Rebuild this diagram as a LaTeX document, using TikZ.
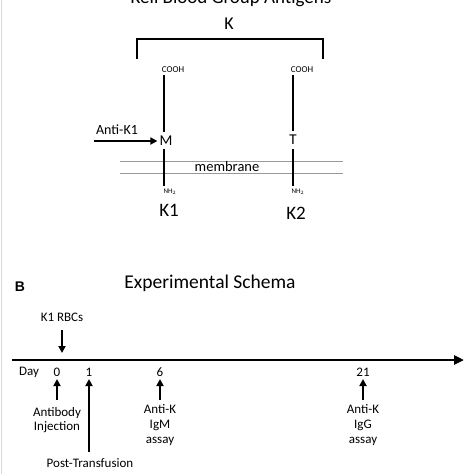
\documentclass[tikz,border=0pt]{standalone}
\usepackage{fontspec}
\setmainfont{Carlito}
\usetikzlibrary{arrows.meta}
\begin{document}
\begin{tikzpicture}[x=1pt,y=-1pt,
  txt/.style={inner sep=0pt,align=center,font=\fontsize{#1}{#1}\selectfont},
  txt/.default=12,
  bar/.style={line width=2.6pt,black},
  memb/.style={line width=0.6pt,gray!80},
  arr/.style={line width=1.8pt,-{Triangle[length=7pt,width=7pt]}},
  tl/.style={line width=2.6pt,-{Triangle[length=10pt,width=9pt]}}]
\useasboundingbox (0,0) rectangle (474,474);
\clip (0,0) rectangle (474,474);
\draw[gray!30,line width=0.8pt] (1,0) -- (1,474);
% Panel A
\node[txt=19,anchor=base] (title) at (231,3) {Kell Blood Group Antigens};
\node[txt=18] (K) at (229,24) {K};
\coordinate (bl) at (137,59);
\coordinate (br) at (323,59);
\draw[bar,line cap=butt] (bl) -- (137,39) -- (323,39) -- (br);
\node[txt=9] (cooh1) at (173,70) {COOH};
\node[txt=9] (cooh2) at (302,70) {COOH};
\node[txt=15] (M) at (166,141) {M};
\node[txt=15] (T) at (293,140) {T};
\node[txt=7] (nh1) at (170,192) {NH$_2$};
\node[txt=7] (nh2) at (298,192) {NH$_2$};
\coordinate (a1) at (164,75);
\coordinate (a2) at (164,132);
\coordinate (a3) at (164,149);
\coordinate (a4) at (164,186);
\coordinate (b1) at (293,75);
\coordinate (b2) at (293,131);
\coordinate (b3) at (293,149);
\coordinate (b4) at (293,186);
\draw[memb] (120,161) -- (343,161);
\draw[memb] (120,173) -- (343,173);
\node[txt=14.5] (memb) at (227,167) {membrane};
\draw[bar] (a1) -- (a2);
\draw[bar] (a3) -- (a4);
\draw[bar] (b1) -- (b2);
\draw[bar] (b3) -- (b4);
\node[txt=14] (antik1) at (117,130) {Anti-K1};
\coordinate (ak) at (94,141);
\draw[arr] (ak) -- ([xshift=-2pt]M.west);
\node[txt=19] (K1) at (169,210) {K1};
\node[txt=19] (K2) at (296,213) {K2};
% Panel B
\node[inner sep=0pt,font=\fontsize{14}{14}\fontspec{Liberation Sans}\bfseries] (B) at (20,287) {B};
\node[txt=19.5] (exp) at (210,283) {Experimental Schema};
\node[txt=13] (rbc) at (62,317) {K1 RBCs};
\coordinate (rbctop) at (62,330);
\coordinate (rbcend) at (62,353);
\draw[arr] (rbctop) -- (rbcend);
\coordinate (t0) at (12,360);
\coordinate (t1) at (464,360);
\draw[tl] (t0) -- (t1);
\node[txt=13] (day) at (29,372) {Day};
\node[txt=13] (d0) at (57,372) {0};
\node[txt=13] (d1) at (89,372) {1};
\node[txt=13] (d6) at (160,372) {6};
\node[txt=13] (d21) at (363,372) {21};
\node[inner sep=0pt,align=center,font=\fontsize{13}{14}\selectfont] (inj) at (57,420) {Antibody\\Injection};
\node[txt=13] (post) at (90,463) {Post-Transfusion};
\node[inner sep=0pt,align=center,font=\fontsize{13}{15}\selectfont] (igm) at (160,425) {Anti-K\\IgM\\assay};
\node[inner sep=0pt,align=center,font=\fontsize{13}{15}\selectfont] (igg) at (363,425) {Anti-K\\IgG\\assay};
\coordinate (p0) at (57,400);
\coordinate (p1) at (89,452);
\coordinate (p6) at (160,400);
\coordinate (p21) at (363,400);
\draw[arr] (p0) -- (57,379);
\draw[arr] (p1) -- (89,379);
\draw[arr] (p6) -- (160,379);
\draw[arr] (p21) -- (363,379);
\end{tikzpicture}
\end{document}
